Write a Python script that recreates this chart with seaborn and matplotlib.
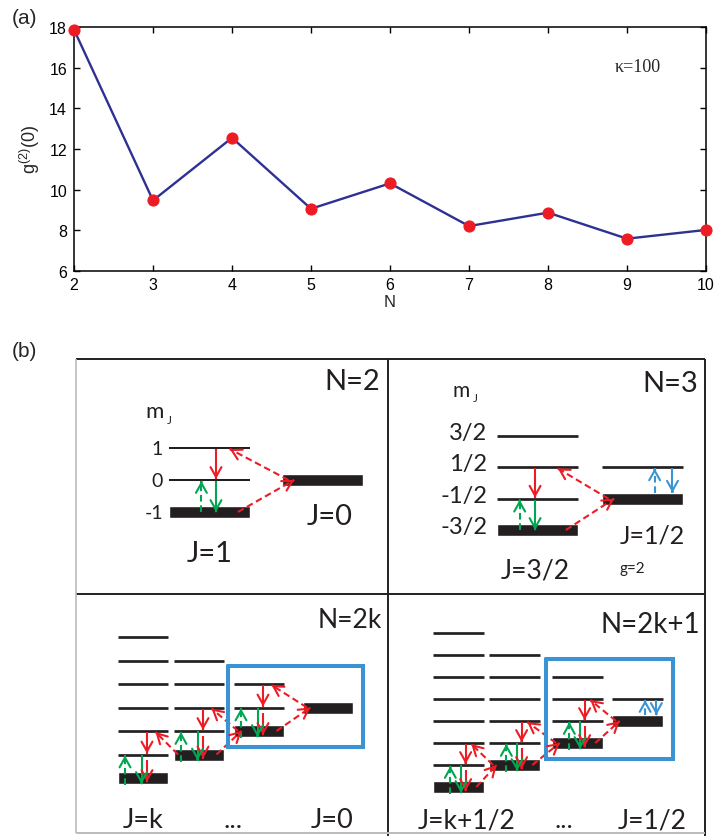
import numpy as np
import pandas as pd
import matplotlib
matplotlib.use("Agg")
import matplotlib.pyplot as plt
import seaborn as sns

# ---------------- data: panel (a) ----------------
N_values = [2, 3, 4, 5, 6, 7, 8, 9, 10]
g2_values = [17.87, 9.47, 12.55, 9.06, 10.31, 8.21, 8.87, 7.59, 8.02]
x_ticks = [2, 3, 4, 5, 6, 7, 8, 9, 10]
y_ticks = [6, 8, 10, 12, 14, 16, 18]
kappa_label = "κ=100"

# ---------------- data: panel (b) level schemes ----------------
panel_titles = ["N=2", "N=3", "N=2k", "N=2k+1"]
panel_grid_levels = [3, 4, 7, 8]          # number of m_J sublevels of the largest J
panel_n_columns = [2, 2, 4, 4]            # number of J manifolds drawn
panel_half_integer = [False, True, False, True]
panel_J_labels = [["J=1", "J=0"], ["J=3/2", "J=1/2"],
                  ["J=k", "...", "J=0"], ["J=k+1/2", "...", "J=1/2"]]
panel_skip_lower_link = [[], [], [0], []]
mJ_labels_N2 = ["-1", "0", "1"]
mJ_labels_N3 = ["-3/2", "-1/2", "1/2", "3/2"]
g_factor_label = "g=2"

# ---------------- style ----------------
sns.set_style("ticks")
plt.rcParams["font.family"] = ["Liberation Sans", "DejaVu Sans"]
plt.rcParams["mathtext.fontset"] = "custom"
plt.rcParams["mathtext.rm"] = "Liberation Sans"
plt.rcParams["mathtext.it"] = "Liberation Sans:italic"

DARK = "#231F20"
RED = "#ED1C24"
GREEN = "#00A651"
BLUE = "#3A94D4"
LINE_BLUE = "#2E3192"

W, H = 722, 837
fig = plt.figure(figsize=(W / 100, H / 100), dpi=100)

# ---------------- panel (a) ----------------
ax = fig.add_axes([74 / W, 1 - 272 / H, 632 / W, 244 / H])
df = pd.DataFrame({"N": N_values, "g2": g2_values})
sns.lineplot(data=df, x="N", y="g2", ax=ax, color=LINE_BLUE, linewidth=1.7,
             marker="o", markersize=8, markerfacecolor=RED,
             markeredgecolor=RED, clip_on=False, zorder=3)
ax.set_xlim(2, 10)
ax.set_ylim(6, 18)
ax.set_xticks(x_ticks)
ax.set_yticks(y_ticks)
ax.tick_params(direction="in", length=4.5, width=1.0, top=True, right=True,
               labelsize=11.5, colors="black")
ax.tick_params(axis="y", pad=5)
ax.tick_params(axis="x", pad=4)
for s in ax.spines.values():
    s.set_linewidth(1.1)
    s.set_color("black")
ax.set_xlabel("N", fontsize=12)
ax.set_ylabel(r"g$^{(2)}$(0)", fontsize=13)
ax.xaxis.set_label_coords(0.5, -0.095)
ax.yaxis.set_label_coords(-0.050, 0.5)
ax.text(9.13, 16.08, kappa_label, family=["Liberation Serif", "DejaVu Serif"],
        fontsize=13, ha="center", va="center")
fig.text(12 / W, 1 - 18 / H, "(a)", fontsize=15, ha="left", va="center")
fig.text(12 / W, 1 - 352 / H, "(b)", fontsize=15, ha="left", va="center")

# ---------------- panel (b) ----------------
ax2 = fig.add_axes([0, 0, 1, 497 / H])
ax2.set_xlim(0, W)
ax2.set_ylim(H, 340)
ax2.axis("off")

FONT = ["Lato", "DejaVu Sans"]

# frame of the four sub-panels
ax2.hlines([360, 595], 76, 705, color=DARK, lw=1.4)
ax2.vlines([388, 705], 360, 837, color=DARK, lw=1.4)
ax2.vlines([76], 360, 834, color="#bbbbbb", lw=1.2)
ax2.hlines([834], 76, 705, color="#bbbbbb", lw=1.4)


def txt(x, y, s, size, ha="center"):
    ax2.text(x, y, s, fontsize=size, ha=ha, va="baseline", family=FONT, color=DARK)


def arrow(x1, y1, x2, y2, color, lw, dashed=False):
    ls = (0, (3.2, 1.8)) if dashed else "-"
    ax2.plot([x1, x2], [y1, y2], color=color, lw=lw, linestyle=ls,
             solid_capstyle="butt", dash_capstyle="butt")
    d = np.hypot(x2 - x1, y2 - y1)
    ux, uy = (x2 - x1) / d, (y2 - y1) / d
    ax2.annotate("", xy=(x2, y2), xytext=(x2 - ux, y2 - uy),
                 arrowprops=dict(arrowstyle="->,head_length=0.5,head_width=0.28",
                                 color=color, lw=lw, shrinkA=0, shrinkB=0,
                                 mutation_scale=14))


layouts = [
    dict(x0=[169, 282], w=81, y0=513, step=32.0, llw=1.45, gd=0.40, gs=0.58, rd=0.58,
         big=False, title=(380, 390, 21),
         jl=[(210, 562, 21), (330, 525, 21)]),
    dict(x0=[497, 602], w=81, y0=531, step=31.3, llw=1.95, gd=0.28, gs=0.47, rd=0.47,
         big=False, title=(698, 392, 21),
         jl=[(535, 578, 19), (652, 543, 18)]),
    dict(x0=[118, 174, 234, 303], w=50, y0=779, step=23.5, llw=1.95, gd=0.14, gs=0.47,
         rd=0.58, big=True, title=(382, 628, 19),
         jl=[(143, 828, 19.5), (233, 828, 19.5), (332, 828, 19.5)]),
    dict(x0=[433, 489, 552, 612], w=51, y0=788, step=22.0, llw=1.95, gd=0.34, gs=0.55,
         rd=0.64, big=True, title=(700, 633, 20),
         jl=[(467, 828, 19), (564, 828, 19), (652, 828, 19)]),
]

for p, lay in enumerate(layouts):
    L = panel_grid_levels[p]
    nc = panel_n_columns[p]
    x0s, w = lay["x0"], lay["w"]

    def yl(i, lay=lay):
        return lay["y0"] - lay["step"] * i

    # levels: bar = lowest sublevel of each manifold, thin lines = upper sublevels
    for c in range(nc):
        lo, hi = c, L - 1 - c
        ax2.barh([yl(lo)], [w], left=x0s[c], height=12, color=DARK)
        ys = [yl(i) for i in range(lo + 1, hi + 1)]
        if ys:
            ax2.hlines(ys, x0s[c], x0s[c] + w, color=DARK, lw=lay["llw"])

    alw = 1.5
    # transitions inside each manifold
    for c in range(nc - 1):
        xa = x0s[c]
        xr = xa + lay["rd"] * w
        xg = xa + lay["gs"] * w
        xd = xa + lay["gd"] * w
        arrow(xr, yl(c + 2) + 1, xr, yl(c + 1) - 1, RED, alw)
        if lay["big"]:
            arrow(xr, yl(c + 1) + 5, xr, yl(c) + 4, RED, alw)
            arrow(xg, yl(c + 1), xg, yl(c) + 6, GREEN, alw)
            arrow(xd, yl(c) + 7, xd, yl(c + 1) + 1, GREEN, alw, dashed=True)
        else:
            arrow(xg, yl(c + 1) + 1, xg, yl(c), GREEN, alw)
            arrow(xd, yl(c), xd, yl(c + 1) + 1, GREEN, alw, dashed=True)

    # J=1/2 manifold with g=2
    if panel_half_integer[p]:
        c = nc - 1
        xa = x0s[c]
        xb1 = xa + 0.65 * w
        xb2 = xa + 0.87 * w
        arrow(xb1, yl(c) - 6, xb1, yl(c + 1) + 1, BLUE, alw, dashed=True)
        arrow(xb2, yl(c + 1) + 1, xb2, yl(c) - 6, BLUE, alw)

    # collective links between neighbouring manifolds
    for c in range(nc - 1):
        xs = x0s[c + 1] + 0.08 * w
        arrow(xs, yl(c + 1), x0s[c] + 0.75 * w, yl(c + 2) + 1, RED, alw, dashed=True)
        if c not in panel_skip_lower_link[p]:
            arrow(x0s[c] + 0.85 * w, yl(c), x0s[c + 1] + 0.15 * w, yl(c + 1),
                  RED, alw, dashed=True)

    # blue box around the last two manifolds
    if lay["big"]:
        c = nc - 2
        bx0 = x0s[c] - 6
        bx1 = x0s[nc - 1] + w + 10
        by0 = yl(L - 1 - c) - 18
        by1 = yl(c) + 16
        ax2.plot([bx0, bx1, bx1, bx0, bx0], [by0, by0, by1, by1, by0],
                 color=BLUE, lw=2.9, solid_joinstyle="miter")

    # texts
    tx, ty, ts = lay["title"]
    txt(tx, ty, panel_titles[p], ts, ha="right")
    for (jx, jy, js), lab in zip(lay["jl"], panel_J_labels[p]):
        txt(jx, jy, lab, js)

# m_J labels
txt(145, 418, "m", 16, ha="left")
txt(167, 424, "J", 8.5, ha="left")
for i, lab in enumerate(mJ_labels_N2):
    txt(163, 513 - 32.0 * i + 6, lab, 14, ha="right")
txt(453, 397, "m", 15, ha="left")
txt(473, 402, "J", 8.5, ha="left")
for i, lab in enumerate(mJ_labels_N3):
    txt(487, 531 - 31.3 * i + 3, lab, 17, ha="right")
txt(632, 573, g_factor_label, 11)

fig.savefig("out.png", dpi=100)
